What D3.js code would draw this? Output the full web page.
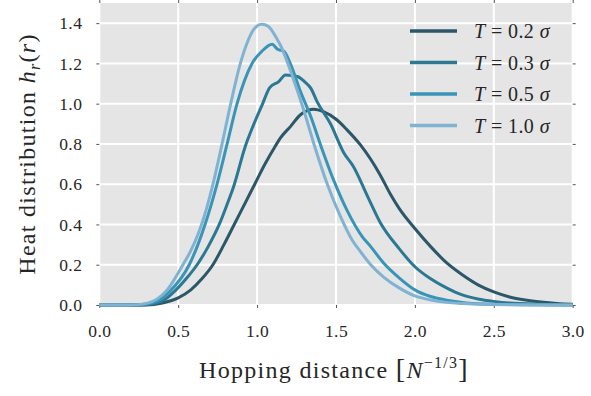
<!DOCTYPE html>
<html>
<head>
<meta charset="utf-8">
<script src="https://cdn.jsdelivr.net/npm/d3@7"></script>
<style>
  body { margin: 0; background: #fff; }
  text { font-family: "Liberation Serif", "DejaVu Serif", serif; fill: #262626; }
</style>
</head>
<body>
<script>
// Heat distribution curves as [r, h_r(r)] pairs
const t02 = [[0,0],[0.3,0],[0.4,0.01],[0.5,0.035],[0.58,0.075],[0.65,0.13],[0.72,0.2],[0.79,0.3],[0.855,0.4],
  [0.92,0.5],[0.985,0.6],[1.05,0.7],[1.116,0.79],[1.148,0.83],[1.211,0.886],[1.275,0.945],[1.36,0.972],
  [1.42,0.96],[1.505,0.92],[1.57,0.87],[1.655,0.795],[1.78,0.646],[1.845,0.55],[1.9,0.48],[2.0,0.38],[2.1,0.29],
  [2.2,0.21],[2.3,0.15],[2.4,0.1],[2.5,0.065],[2.6,0.04],[2.7,0.025],[2.8,0.015],[2.9,0.008],[3.0,0.004]];
const t03 = [[0,0],[0.25,0],[0.32,0.004],[0.4,0.02],[0.48,0.07],[0.55,0.13],[0.62,0.2],[0.69,0.29],[0.76,0.4],
  [0.81,0.5],[0.852,0.59],[0.926,0.79],[0.975,0.89],[1.03,0.99],[1.08,1.08],[1.137,1.11],[1.18,1.143],
  [1.255,1.135],[1.3,1.11],[1.34,1.077],[1.38,1.01],[1.465,0.9],[1.55,0.755],[1.61,0.688],[1.7,0.54],[1.78,0.41],
  [1.9,0.28],[2.0,0.19],[2.1,0.13],[2.2,0.085],[2.3,0.05],[2.4,0.03],[2.5,0.018],[2.6,0.01],[2.8,0.004],[3.0,0.001]];
const t05 = [[0,0],[0.22,0],[0.3,0.005],[0.4,0.035],[0.45,0.07],[0.57,0.2],[0.625,0.3],[0.67,0.4],[0.71,0.5],
  [0.746,0.6],[0.81,0.8],[0.873,1.0],[0.968,1.2],[1.03,1.26],[1.095,1.295],[1.13,1.27],[1.17,1.26],[1.21,1.2],
  [1.275,1.06],[1.34,0.936],[1.4,0.8],[1.485,0.62],[1.57,0.47],[1.666,0.34],[1.72,0.29],[1.8,0.21],[1.9,0.135],
  [2.0,0.075],[2.1,0.042],[2.2,0.024],[2.3,0.013],[2.5,0.004],[3.0,0]];
const t10 = [[0,0],[0.2,0],[0.3,0.008],[0.43,0.075],[0.53,0.2],[0.58,0.27],[0.63,0.36],[0.68,0.48],[0.714,0.58],
  [0.778,0.8],[0.83,0.99],[0.894,1.2],[0.936,1.3],[0.98,1.37],[1.03,1.395],[1.07,1.385],[1.127,1.32],[1.148,1.29],
  [1.232,1.118],[1.295,0.97],[1.36,0.8],[1.445,0.6],[1.528,0.44],[1.602,0.323],[1.655,0.265],[1.72,0.2],[1.8,0.14],
  [1.9,0.085],[2.0,0.045],[2.1,0.025],[2.2,0.013],[2.3,0.007],[2.5,0.002],[3.0,0]];

const seriesData = [t02, t03, t05, t10];
const seriesLabels = ["0.2", "0.3", "0.5", "1.0"];
const seriesColors = ["#2b5769", "#2b7893", "#3995b8", "#80b3d1"];

const xTicks = [0, 0.5, 1.0, 1.5, 2.0, 2.5, 3.0];
const yTicks = [0, 0.2, 0.4, 0.6, 0.8, 1.0, 1.2, 1.4];

const w = 591;
const h = 396;
const plotL = 99.3, plotR = 572.7, plotT = 3, plotB = 305;
const serif = '"Liberation Serif", "Times New Roman", serif';

const svg = d3.select("body").append("svg").attr("width", w).attr("height", h);

const x = d3.scaleLinear().domain([0, 3]).range([plotL, plotR]);
const y = d3.scaleLinear().domain([0, 1.5]).range([plotB, plotT]);

// plot background
svg.append("rect")
  .attr("x", plotL).attr("y", plotT)
  .attr("width", plotR - plotL).attr("height", plotB - plotT)
  .attr("fill", "#e5e5e5");

// grid
svg.append("g").selectAll("line").data(xTicks).join("line")
  .attr("x1", d => x(d)).attr("x2", d => x(d))
  .attr("y1", plotT).attr("y2", plotB)
  .attr("stroke", "#fff").attr("stroke-width", 2);
svg.append("g").selectAll("line").data(yTicks).join("line")
  .attr("x1", plotL).attr("x2", plotR)
  .attr("y1", d => y(d)).attr("y2", d => y(d))
  .attr("stroke", "#fff").attr("stroke-width", 2);

// axes
function styleAxis(g) {
  g.attr("font-family", serif).attr("font-size", 17);
  g.select(".domain").remove();
  g.selectAll(".tick line").attr("stroke", "#555").attr("stroke-width", 1);
  g.selectAll(".tick text")
    .attr("font-family", serif)
    .style("font-family", serif)
    .style("font-size", "17.5px")
    .style("letter-spacing", "0.4px")
    .attr("fill", "#262626");
}

svg.append("g")
  .attr("transform", `translate(0,${plotB})`)
  .call(d3.axisBottom(x).tickValues(xTicks).tickFormat(d3.format(".1f")).tickSize(3).tickPadding(17))
  .call(styleAxis);

svg.append("g")
  .attr("transform", `translate(${plotL},0)`)
  .call(d3.axisLeft(y).tickValues(yTicks).tickFormat(d3.format(".1f")).tickSize(3).tickPadding(14))
  .call(styleAxis);

// little ticks on top and right
svg.append("g")
  .attr("transform", `translate(0,${plotT})`)
  .call(d3.axisTop(x).tickValues(xTicks).tickFormat("").tickSize(3))
  .call(styleAxis);
svg.append("g")
  .attr("transform", `translate(${plotR},0)`)
  .call(d3.axisRight(y).tickValues(yTicks).tickFormat("").tickSize(3))
  .call(styleAxis);

// curves
const line = d3.line()
  .x(d => x(d[0]))
  .y(d => y(d[1]))
  .curve(d3.curveMonotoneX);

svg.append("g").selectAll("path").data(seriesData).join("path")
  .attr("d", line)
  .attr("fill", "none")
  .attr("stroke", (d, i) => seriesColors[i])
  .attr("stroke-width", 3)
  .attr("stroke-linejoin", "round");

// legend
const legend = svg.append("g");
seriesLabels.forEach((lab, i) => {
  const ly = 31 + i * 31.5;
  legend.append("line")
    .attr("x1", 410).attr("x2", 457)
    .attr("y1", ly).attr("y2", ly)
    .attr("stroke", seriesColors[i]).attr("stroke-width", 3.5);
  const t = legend.append("text")
    .attr("x", 474).attr("y", ly + 7)
    .style("font-size", "20px")
    .style("letter-spacing", "0.4px");
  t.append("tspan").attr("font-style", "italic").text("T");
  t.append("tspan").text(" = " + lab + " ");
  t.append("tspan").attr("font-style", "italic").text("σ");
});

// x label
const xl = svg.append("text")
  .attr("x", 334).attr("y", 378)
  .attr("text-anchor", "middle")
  .style("font-size", "24px")
  .style("letter-spacing", "1.3px");
xl.append("tspan").text("Hopping distance ");
xl.append("tspan").style("font-size", "28px").text("[");
xl.append("tspan").attr("font-style", "italic").text("N");
xl.append("tspan").attr("dy", -10).style("font-size", "16px").text("−1/3");
xl.append("tspan").attr("dy", 10).style("font-size", "28px").text("]");

// y label
const yl = svg.append("text")
  .attr("transform", "translate(35,154) rotate(-90)")
  .attr("text-anchor", "middle")
  .style("font-size", "24px")
  .style("letter-spacing", "1.3px");
yl.append("tspan").text("Heat distribution ");
yl.append("tspan").attr("font-style", "italic").text("h");
yl.append("tspan").attr("font-style", "italic").attr("dy", 5).style("font-size", "16px").text("r");
yl.append("tspan").attr("dy", -5).text("(");
yl.append("tspan").attr("font-style", "italic").text("r");
yl.append("tspan").text(")");
</script>
</body>
</html>
